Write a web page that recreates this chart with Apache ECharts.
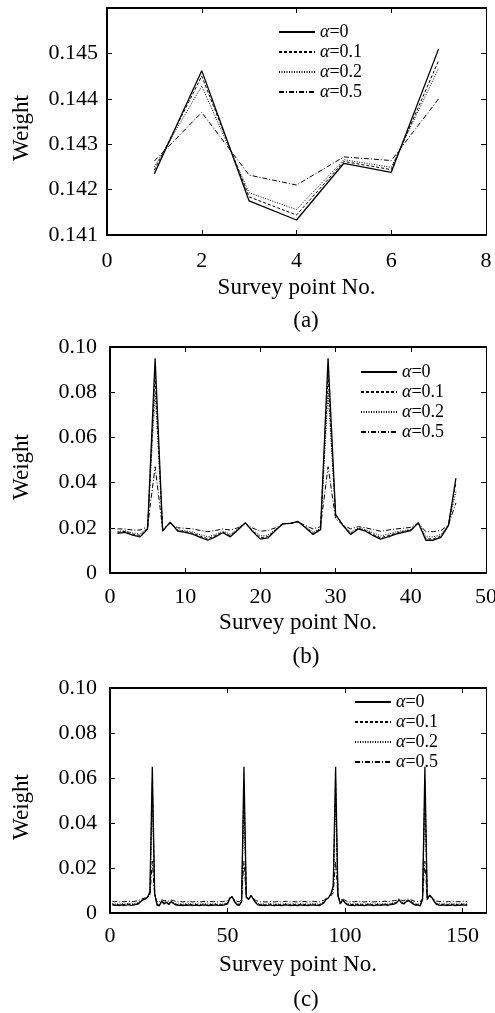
<!DOCTYPE html>
<html><head><meta charset="utf-8">
<script src="https://cdn.jsdelivr.net/npm/echarts@6/dist/echarts.min.js"></script>
<style>html,body{margin:0;padding:0;background:#fff}#c{width:495px;height:1013px}</style>
</head><body><div id="c"></div>
<script>
const seriesNames = ['α=0', 'α=0.1', 'α=0.2', 'α=0.5'];
const panelLabels = ['(a)', '(b)', '(c)'];
const xTitle = 'Survey point No.';
const yTitle = 'Weight';

// Panel (a): 7 survey points
const a_alpha0  = [0.14235, 0.14462, 0.14175, 0.14133, 0.14258, 0.14238, 0.14510];
const a_alpha01 = [0.14243, 0.14450, 0.14184, 0.14144, 0.14262, 0.14244, 0.14484];
const a_alpha02 = [0.14250, 0.14428, 0.14193, 0.14156, 0.14266, 0.14249, 0.14467];
const a_alpha05 = [0.14263, 0.14370, 0.14232, 0.14210, 0.14272, 0.14264, 0.14400];

// Panel (b): 46 survey points
const b_alpha0 = [0.0175,0.0180,0.0168,0.0160,0.0195,0.0950,0.0185,0.0225,0.0185,0.0180,
  0.0172,0.0158,0.0145,0.0160,0.0178,0.0160,0.0190,0.0222,0.0182,0.0150,
  0.0155,0.0188,0.0218,0.0220,0.0228,0.0200,0.0170,0.0192,0.0950,0.0260,
  0.0210,0.0170,0.0195,0.0185,0.0165,0.0150,0.0160,0.0172,0.0180,0.0188,
  0.0222,0.0145,0.0145,0.0158,0.0210,0.0420];
const b_alpha01 = [0.0180,0.0184,0.0172,0.0166,0.0197,0.0880,0.0187,0.0224,0.0188,0.0183,
  0.0176,0.0163,0.0152,0.0165,0.0181,0.0165,0.0192,0.0222,0.0185,0.0156,
  0.0161,0.0190,0.0218,0.0220,0.0228,0.0202,0.0175,0.0194,0.0880,0.0257,
  0.0210,0.0175,0.0197,0.0188,0.0170,0.0156,0.0165,0.0176,0.0183,0.0190,
  0.0222,0.0151,0.0151,0.0163,0.0210,0.0400];
const b_alpha02 = [0.0184,0.0187,0.0177,0.0172,0.0199,0.0800,0.0189,0.0223,0.0191,0.0187,
  0.0181,0.0170,0.0160,0.0171,0.0185,0.0172,0.0194,0.0221,0.0188,0.0164,
  0.0168,0.0193,0.0218,0.0220,0.0227,0.0204,0.0181,0.0197,0.0800,0.0253,
  0.0211,0.0181,0.0199,0.0192,0.0177,0.0164,0.0172,0.0182,0.0187,0.0193,
  0.0221,0.0160,0.0160,0.0170,0.0211,0.0360];
const b_alpha05 = [0.0195,0.0195,0.0190,0.0190,0.0205,0.0470,0.0195,0.0220,0.0200,0.0198,
  0.0195,0.0188,0.0183,0.0188,0.0195,0.0190,0.0200,0.0220,0.0198,0.0185,
  0.0188,0.0200,0.0218,0.0220,0.0225,0.0210,0.0195,0.0205,0.0470,0.0240,
  0.0212,0.0195,0.0205,0.0200,0.0192,0.0185,0.0190,0.0195,0.0198,0.0202,
  0.0220,0.0183,0.0183,0.0188,0.0212,0.0310];

// Panel (c): 152 survey points
const c_alpha0 = [0.0036,0.0034,0.0035,0.0033,0.0036,0.0034,0.0035,0.0037,0.0034,0.0035,
  0.0038,0.0040,0.0050,0.0058,0.0062,0.0070,0.0095,0.0650,0.0090,0.0035,
  0.0032,0.0052,0.0040,0.0048,0.0038,0.0050,0.0042,0.0036,0.0034,0.0035,
  0.0033,0.0035,0.0034,0.0036,0.0033,0.0034,0.0035,0.0033,0.0034,0.0036,
  0.0034,0.0033,0.0035,0.0034,0.0036,0.0033,0.0035,0.0034,0.0037,0.0040,
  0.0065,0.0072,0.0050,0.0036,0.0034,0.0050,0.0650,0.0070,0.0060,0.0078,
  0.0062,0.0045,0.0036,0.0034,0.0035,0.0033,0.0034,0.0036,0.0034,0.0033,
  0.0035,0.0034,0.0033,0.0035,0.0036,0.0034,0.0033,0.0035,0.0034,0.0033,
  0.0036,0.0034,0.0035,0.0033,0.0034,0.0036,0.0035,0.0034,0.0033,0.0038,
  0.0045,0.0060,0.0068,0.0085,0.0120,0.0650,0.0080,0.0040,0.0058,0.0045,
  0.0036,0.0034,0.0035,0.0033,0.0036,0.0034,0.0035,0.0033,0.0034,0.0036,
  0.0035,0.0033,0.0034,0.0036,0.0034,0.0035,0.0037,0.0034,0.0036,0.0038,
  0.0040,0.0045,0.0058,0.0045,0.0040,0.0050,0.0055,0.0048,0.0040,0.0035,
  0.0035,0.0032,0.0060,0.0650,0.0060,0.0080,0.0068,0.0050,0.0038,0.0035,
  0.0034,0.0036,0.0033,0.0035,0.0034,0.0036,0.0033,0.0035,0.0034,0.0036,
  0.0035,0.0034];
const c_alpha01 = [0.0039,0.0037,0.0038,0.0036,0.0039,0.0037,0.0038,0.0040,0.0037,0.0038,
  0.0041,0.0043,0.0052,0.0059,0.0063,0.0070,0.0093,0.0580,0.0088,0.0038,
  0.0035,0.0054,0.0043,0.0050,0.0041,0.0052,0.0045,0.0039,0.0037,0.0038,
  0.0036,0.0038,0.0037,0.0039,0.0036,0.0037,0.0038,0.0036,0.0037,0.0039,
  0.0037,0.0036,0.0038,0.0037,0.0039,0.0036,0.0038,0.0037,0.0040,0.0043,
  0.0066,0.0072,0.0052,0.0039,0.0037,0.0052,0.0580,0.0070,0.0061,0.0077,
  0.0063,0.0047,0.0039,0.0037,0.0038,0.0036,0.0037,0.0039,0.0037,0.0036,
  0.0038,0.0037,0.0036,0.0038,0.0039,0.0037,0.0036,0.0038,0.0037,0.0036,
  0.0039,0.0037,0.0038,0.0036,0.0037,0.0039,0.0038,0.0037,0.0036,0.0041,
  0.0047,0.0061,0.0068,0.0084,0.0115,0.0580,0.0079,0.0043,0.0059,0.0047,
  0.0039,0.0037,0.0038,0.0036,0.0039,0.0037,0.0038,0.0036,0.0037,0.0039,
  0.0038,0.0036,0.0037,0.0039,0.0037,0.0038,0.0040,0.0037,0.0039,0.0041,
  0.0043,0.0047,0.0059,0.0047,0.0043,0.0052,0.0056,0.0050,0.0043,0.0038,
  0.0038,0.0035,0.0061,0.0580,0.0061,0.0079,0.0068,0.0052,0.0041,0.0038,
  0.0037,0.0039,0.0036,0.0038,0.0037,0.0039,0.0036,0.0038,0.0037,0.0039,
  0.0038,0.0037];
const c_alpha02 = [0.0042,0.0040,0.0041,0.0039,0.0042,0.0040,0.0041,0.0043,0.0040,0.0041,
  0.0044,0.0046,0.0054,0.0060,0.0064,0.0070,0.0090,0.0500,0.0085,0.0041,
  0.0038,0.0056,0.0046,0.0052,0.0044,0.0054,0.0047,0.0042,0.0040,0.0041,
  0.0039,0.0041,0.0040,0.0042,0.0039,0.0040,0.0041,0.0039,0.0040,0.0042,
  0.0040,0.0039,0.0041,0.0040,0.0042,0.0039,0.0041,0.0040,0.0043,0.0046,
  0.0067,0.0072,0.0054,0.0042,0.0040,0.0054,0.0500,0.0070,0.0062,0.0076,
  0.0064,0.0049,0.0042,0.0040,0.0041,0.0039,0.0040,0.0042,0.0040,0.0039,
  0.0041,0.0040,0.0039,0.0041,0.0042,0.0040,0.0039,0.0041,0.0040,0.0039,
  0.0042,0.0040,0.0041,0.0039,0.0040,0.0042,0.0041,0.0040,0.0039,0.0044,
  0.0049,0.0062,0.0068,0.0082,0.0110,0.0500,0.0078,0.0046,0.0060,0.0049,
  0.0042,0.0040,0.0041,0.0039,0.0042,0.0040,0.0041,0.0039,0.0040,0.0042,
  0.0041,0.0039,0.0040,0.0042,0.0040,0.0041,0.0043,0.0040,0.0042,0.0044,
  0.0046,0.0049,0.0060,0.0049,0.0046,0.0054,0.0057,0.0052,0.0046,0.0041,
  0.0041,0.0038,0.0062,0.0500,0.0062,0.0078,0.0068,0.0054,0.0044,0.0041,
  0.0040,0.0042,0.0039,0.0041,0.0040,0.0042,0.0039,0.0041,0.0040,0.0042,
  0.0041,0.0040];
const c_alpha05 = [0.0052,0.0050,0.0051,0.0049,0.0052,0.0050,0.0051,0.0053,0.0050,0.0051,
  0.0053,0.0055,0.0060,0.0064,0.0067,0.0070,0.0080,0.0230,0.0075,0.0051,
  0.0049,0.0060,0.0054,0.0057,0.0053,0.0058,0.0055,0.0052,0.0050,0.0051,
  0.0049,0.0051,0.0050,0.0052,0.0049,0.0050,0.0051,0.0049,0.0050,0.0052,
  0.0050,0.0049,0.0051,0.0050,0.0052,0.0049,0.0051,0.0050,0.0053,0.0055,
  0.0068,0.0072,0.0060,0.0052,0.0050,0.0060,0.0230,0.0070,0.0065,0.0074,
  0.0066,0.0056,0.0052,0.0050,0.0051,0.0049,0.0050,0.0052,0.0050,0.0049,
  0.0051,0.0050,0.0049,0.0051,0.0052,0.0050,0.0049,0.0051,0.0050,0.0049,
  0.0052,0.0050,0.0051,0.0049,0.0050,0.0052,0.0051,0.0050,0.0049,0.0054,
  0.0056,0.0065,0.0069,0.0076,0.0090,0.0230,0.0074,0.0054,0.0064,0.0056,
  0.0052,0.0050,0.0051,0.0049,0.0052,0.0050,0.0051,0.0049,0.0050,0.0052,
  0.0051,0.0049,0.0050,0.0052,0.0050,0.0051,0.0053,0.0050,0.0052,0.0054,
  0.0055,0.0057,0.0064,0.0057,0.0055,0.0060,0.0062,0.0058,0.0055,0.0051,
  0.0051,0.0049,0.0065,0.0230,0.0065,0.0074,0.0068,0.0060,0.0053,0.0051,
  0.0050,0.0052,0.0049,0.0051,0.0050,0.0052,0.0049,0.0051,0.0050,0.0052,
  0.0051,0.0050];

const panelData = [
  [a_alpha0, a_alpha01, a_alpha02, a_alpha05],
  [b_alpha0, b_alpha01, b_alpha02, b_alpha05],
  [c_alpha0, c_alpha01, c_alpha02, c_alpha05]
];

const FONT = 'Liberation Serif';
const grids = [
  {left: 107, right: 9, top: 8, height: 227},
  {left: 110, right: 9, top: 347, height: 226},
  {left: 110, right: 9, top: 688, height: 225}
];
const xCfg = [
  {min: 0, max: 8, interval: 2, margin: 15, nameGap: 41},
  {min: 0, max: 50, interval: 10, margin: 13, nameGap: 38},
  {min: 0, max: 160, interval: 50, margin: 12, nameGap: 40}
];
const yCfg = [
  {min: 0.141, max: 0.146, interval: 0.001, margin: 9, fmt: v => v.toFixed(3)},
  {min: 0, max: 0.10, interval: 0.02, margin: 13, fmt: v => v === 0 ? '0' : v.toFixed(2)},
  {min: 0, max: 0.10, interval: 0.02, margin: 13, fmt: v => v === 0 ? '0' : v.toFixed(2)}
];
const legendPos = [
  {left: 278, top: 23},
  {left: 360, top: 363},
  {left: 354, top: 693}
];
const labelY = [321, 657, 1000];
const weightY = [128, 467, 807];
const dashes = ['solid', [3, 2], [1, 1.5], [5, 2, 1, 2]];
const widths = [1.3, 1, 1, 1];

const xAxis = [], yAxis = [], series = [], legend = [], graphic = [];
const tickStyle = {inside: true, length: 5, lineStyle: {color: '#000', width: 1}};
grids.forEach((g, p) => {
  const xc = xCfg[p], yc = yCfg[p];
  xAxis.push({
    type: 'value', gridIndex: p, position: 'bottom', min: xc.min, max: xc.max, interval: xc.interval,
    name: xTitle, nameLocation: 'middle', nameGap: xc.nameGap,
    nameTextStyle: {fontFamily: FONT, fontSize: 23, color: '#000'},
    axisLine: {onZero: false, lineStyle: {color: '#000', width: 2}},
    axisTick: tickStyle,
    axisLabel: {margin: xc.margin, fontFamily: FONT, fontSize: 22, color: '#000', showMaxLabel: p === 2 ? false : true},
    splitLine: {show: false}
  });
  xAxis.push({
    type: 'value', gridIndex: p, position: 'top', min: xc.min, max: xc.max, interval: xc.interval,
    axisLine: {onZero: false, lineStyle: {color: '#000', width: 2}},
    axisTick: tickStyle, axisLabel: {show: false}, splitLine: {show: false}
  });
  yAxis.push({
    type: 'value', gridIndex: p, position: 'left', min: yc.min, max: yc.max, interval: yc.interval,
    axisLine: {onZero: false, lineStyle: {color: '#000', width: 2}},
    axisTick: tickStyle,
    axisLabel: {margin: yc.margin, fontFamily: FONT, fontSize: 22, color: '#000', formatter: yc.fmt, showMaxLabel: p === 0 ? false : true},
    splitLine: {show: false}
  });
  yAxis.push({
    type: 'value', gridIndex: p, position: 'right', min: yc.min, max: yc.max, interval: yc.interval,
    axisLine: {onZero: false, lineStyle: {color: '#000', width: 1}},
    axisTick: tickStyle, axisLabel: {show: false}, splitLine: {show: false}
  });
  panelData[p].forEach((arr, i) => {
    series.push({
      type: 'line', name: seriesNames[i], xAxisIndex: 2 * p, yAxisIndex: 2 * p,
      data: arr.map((v, k) => [k + 1, v]),
      symbol: 'none', showSymbol: false, silent: true,
      lineStyle: {color: '#000', width: widths[i], type: dashes[i]},
      itemStyle: {color: '#000'},
      z: 10 - i
    });
  });
  legend.push({
    data: seriesNames, orient: 'vertical', left: legendPos[p].left, top: legendPos[p].top,
    itemWidth: 36, itemHeight: 14, itemGap: 2, selectedMode: false, padding: 0,
    itemStyle: {opacity: 0, borderWidth: 0},
    formatter: n => '{i|α}' + n.slice(1),
    textStyle: {fontFamily: FONT, fontSize: 18, color: '#000', lineHeight: 18,
      rich: {i: {fontStyle: 'italic', fontFamily: FONT, fontSize: 18, color: '#000', lineHeight: 18}}}
  });
  graphic.push({
    type: 'text', x: 306, y: labelY[p],
    style: {text: panelLabels[p], font: '23px "Liberation Serif"', fill: '#000', textAlign: 'center', textVerticalAlign: 'middle'}
  });
  graphic.push({
    type: 'text', x: 22, y: weightY[p], rotation: Math.PI / 2,
    style: {text: yTitle, font: '23px "Liberation Serif"', fill: '#000', textAlign: 'center', textVerticalAlign: 'middle'}
  });
});

const chart = echarts.init(document.getElementById('c'), null, {renderer: 'canvas'});
chart.setOption({
  animation: false,
  backgroundColor: '#fff',
  grid: grids.map(g => Object.assign({outerBoundsMode: 'none'}, g)),
  xAxis, yAxis, series, legend, graphic
});
</script>
</body></html>
